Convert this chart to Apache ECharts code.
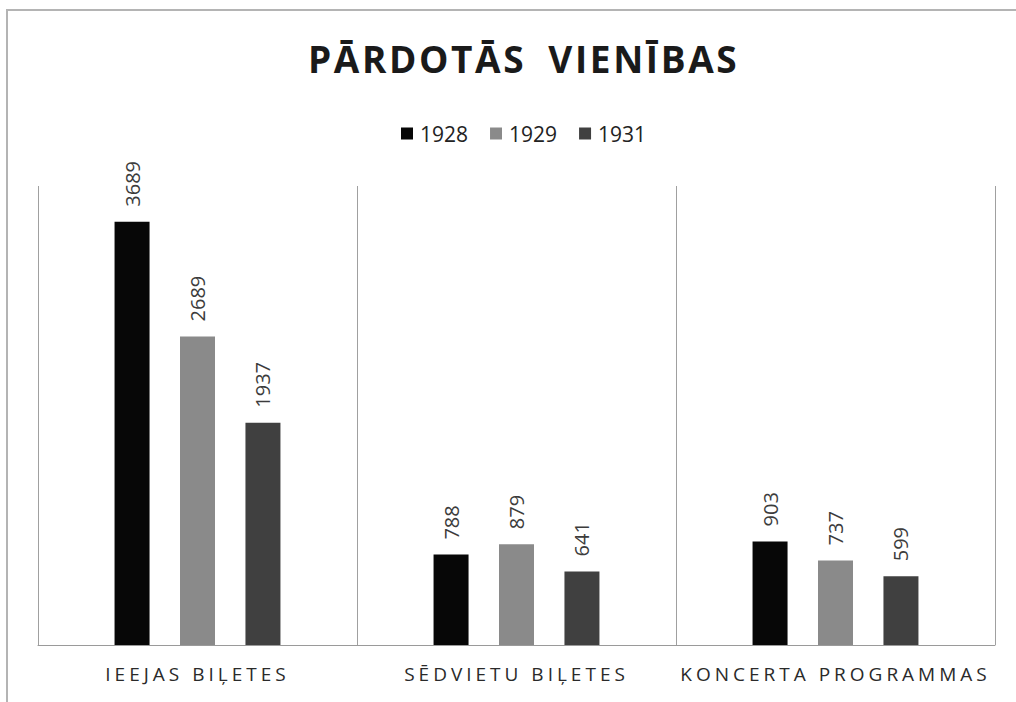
<!DOCTYPE html>
<html>
<head>
<meta charset="utf-8">
<script src="https://cdn.jsdelivr.net/npm/echarts@6/dist/echarts.min.js"></script>
<style>html,body{margin:0;padding:0;background:#fff;}#c{width:1016px;height:702px;}</style>
</head>
<body>
<div id="c"></div>
<script>
const titleText = 'PĀRDOTĀS VIENĪBAS';
const categories = ['IEEJAS BIĻETES', 'SĒDVIETU BIĻETES', 'KONCERTA PROGRAMMAS'];
const seriesNames = ['1928', '1929', '1931'];
const values1928 = [3689, 788, 903];
const values1929 = [2689, 879, 737];
const values1931 = [1937, 641, 599];
const colors = ['#070707', '#8a8a8a', '#404040'];

const chart = echarts.init(document.getElementById('c'), null, {renderer: 'svg'});
const seriesData = [values1928, values1929, values1931];
const option = {
  animation: false,
  backgroundColor: '#ffffff',
  title: {
    text: titleText,
    left: 303,
    top: 35,
    textStyle: {fontFamily: 'Open Sans', fontWeight: 'bold', fontSize: 37, color: '#1a1a1a'}
  },
  legend: {
    data: seriesNames,
    left: 396,
    top: 118,
    itemWidth: 12,
    itemHeight: 12,
    itemGap: 22,
    icon: 'rect',
    textStyle: {fontFamily: 'Open Sans', fontSize: 21, color: '#222', padding: [0,0,0,2]}
  },
  graphic: [{
    type: 'rect',
    shape: {x: 7, y: 10, width: 1100, height: 800},
    style: {fill: 'none', stroke: '#b4b4b4', lineWidth: 2},
    silent: true
  }],
  grid: {left: 38, right: 21, top: 186, bottom: 57},
  xAxis: {
    type: 'category',
    data: categories,
    axisLine: {show: true, lineStyle: {color: '#9a9a9a', width: 1}},
    axisTick: {show: false},
    splitLine: {show: true, lineStyle: {color: '#a0a0a0', width: 1}},
    axisLabel: {fontFamily: 'Open Sans', fontSize: 19, color: '#2a2a2a', margin: 19}
  },
  yAxis: {
    type: 'value',
    min: 0,
    max: 4000,
    interval: 1000,
    show: false,
    splitLine: {show: false}
  },
  series: seriesNames.map((n, i) => ({
    name: n,
    type: 'bar',
    data: seriesData[i],
    barWidth: 35,
    barGap: '87%',
    itemStyle: {color: colors[i]},
    label: {
      show: true,
      position: 'top',
      rotate: 90,
      align: 'left',
      verticalAlign: 'middle',
      distance: 15,
      fontFamily: 'Open Sans',
      fontSize: 20,
      color: '#3c3c3c'
    }
  }))
};
chart.setOption(option);

function spaceText() {
  const texts = document.querySelectorAll('#c text');
  texts.forEach(t => {
    const s = t.textContent;
    if (categories.indexOf(s) >= 0) {
      t.setAttribute('letter-spacing', '4');
    } else if (s === titleText) {
      t.setAttribute('letter-spacing', '2.6');
      t.setAttribute('word-spacing', '10');
    }
  });
}
spaceText();
chart.on('finished', spaceText);
setTimeout(spaceText, 50);
setTimeout(spaceText, 300);
</script>
</body>
</html>
